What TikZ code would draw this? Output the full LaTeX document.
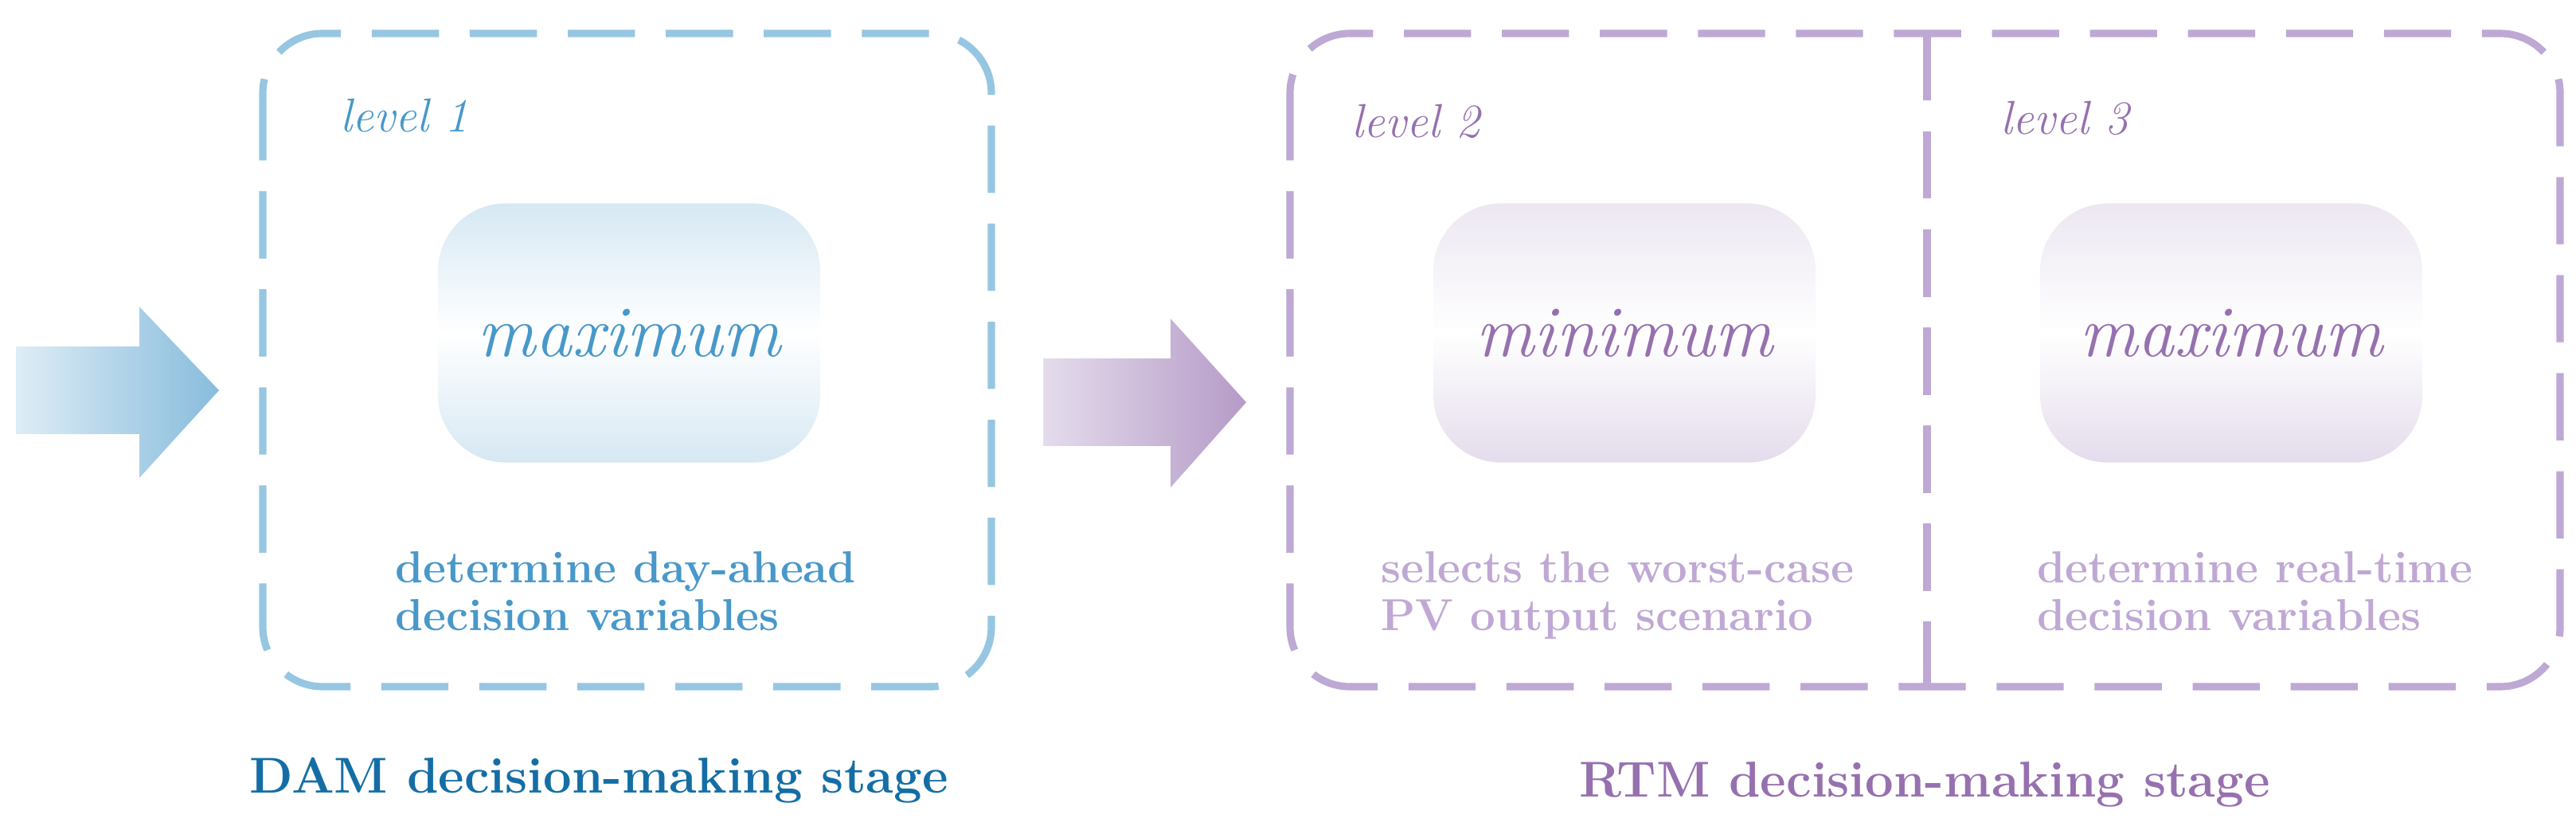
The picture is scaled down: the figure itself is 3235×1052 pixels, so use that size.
\documentclass[tikz,border=0pt]{standalone}
\definecolor{bdash}{RGB}{150,198,226}
\definecolor{btext}{RGB}{72,152,202}
\definecolor{bdark}{RGB}{20,110,165}
\definecolor{bfill}{RGB}{214,232,243}
\definecolor{ptext}{RGB}{150,112,175}
\definecolor{pdash}{RGB}{190,168,212}
\definecolor{plight}{RGB}{192,168,212}
\definecolor{pfill}{RGB}{228,220,236}
\begin{document}
\begin{tikzpicture}[x=0.01cm,y=-0.01cm,
  frame/.style={line width=2.6pt,dash pattern=on 24pt off 11pt,rounded corners=0.75cm},
  blob/.style={rounded corners=0.85cm,minimum width=4.8cm,minimum height=3.25cm,font=\fontsize{26}{30}\selectfont\itshape,inner sep=0},
  lvl/.style={anchor=west,font=\fontsize{17}{20}\selectfont\itshape},
  desc/.style={anchor=north west,align=left,font=\fontsize{16}{17}\selectfont\bfseries},
  stage/.style={font=\fontsize{18}{20}\selectfont\bfseries}]
\useasboundingbox (0,0) rectangle (3235,1052);
% arrows
\shade[left color=bfill!80,right color=btext!65,shading angle=90]
  (20,435) -- (175,435) -- (175,385) -- (275,490) -- (175,600) -- (175,545) -- (20,545) -- cycle;
\shade[left color=pfill,right color=ptext!70,shading angle=90]
  (1310,450) -- (1470,450) -- (1470,400) -- (1565,505) -- (1470,612) -- (1470,560) -- (1310,560) -- cycle;
% left frame
\draw[frame,bdash] (330,42) rectangle (1245,862);
\node[lvl,text=btext] (l1) at (415,145) {level 1};
\node[blob,top color=bfill,bottom color=bfill,middle color=white,text=btext] (b1) at (790,418) {maximum};
\node[desc,text=btext] (d1) at (484,680) {determine day-ahead\\decision variables};
\node[stage,text=bdark] (s1) at (752,980) {DAM decision-making stage};
% right frame
\draw[frame,pdash] (1620,42) rectangle (3215,862);
\draw[line width=2.6pt,dash pattern=on 24pt off 11pt,pdash] (2420,42) -- (2420,862);
\node[lvl,text=ptext] (l2) at (1685,152) {level 2};
\node[lvl,text=ptext] (l3) at (2500,148) {level 3};
\node[blob,top color=pfill!70,bottom color=pfill,middle color=white,text=ptext] (b2) at (2040,418) {minimum};
\node[blob,top color=pfill!70,bottom color=pfill,middle color=white,text=ptext] (b3) at (2802,418) {maximum};
\node[desc,text=plight] (d2) at (1722,680) {selects the worst-case\\PV output scenario};
\node[desc,text=plight] (d3) at (2546,680) {determine real-time\\decision variables};
\node[stage,text=ptext] (s2) at (2417,985) {RTM decision-making stage};
\end{tikzpicture}
\end{document}
